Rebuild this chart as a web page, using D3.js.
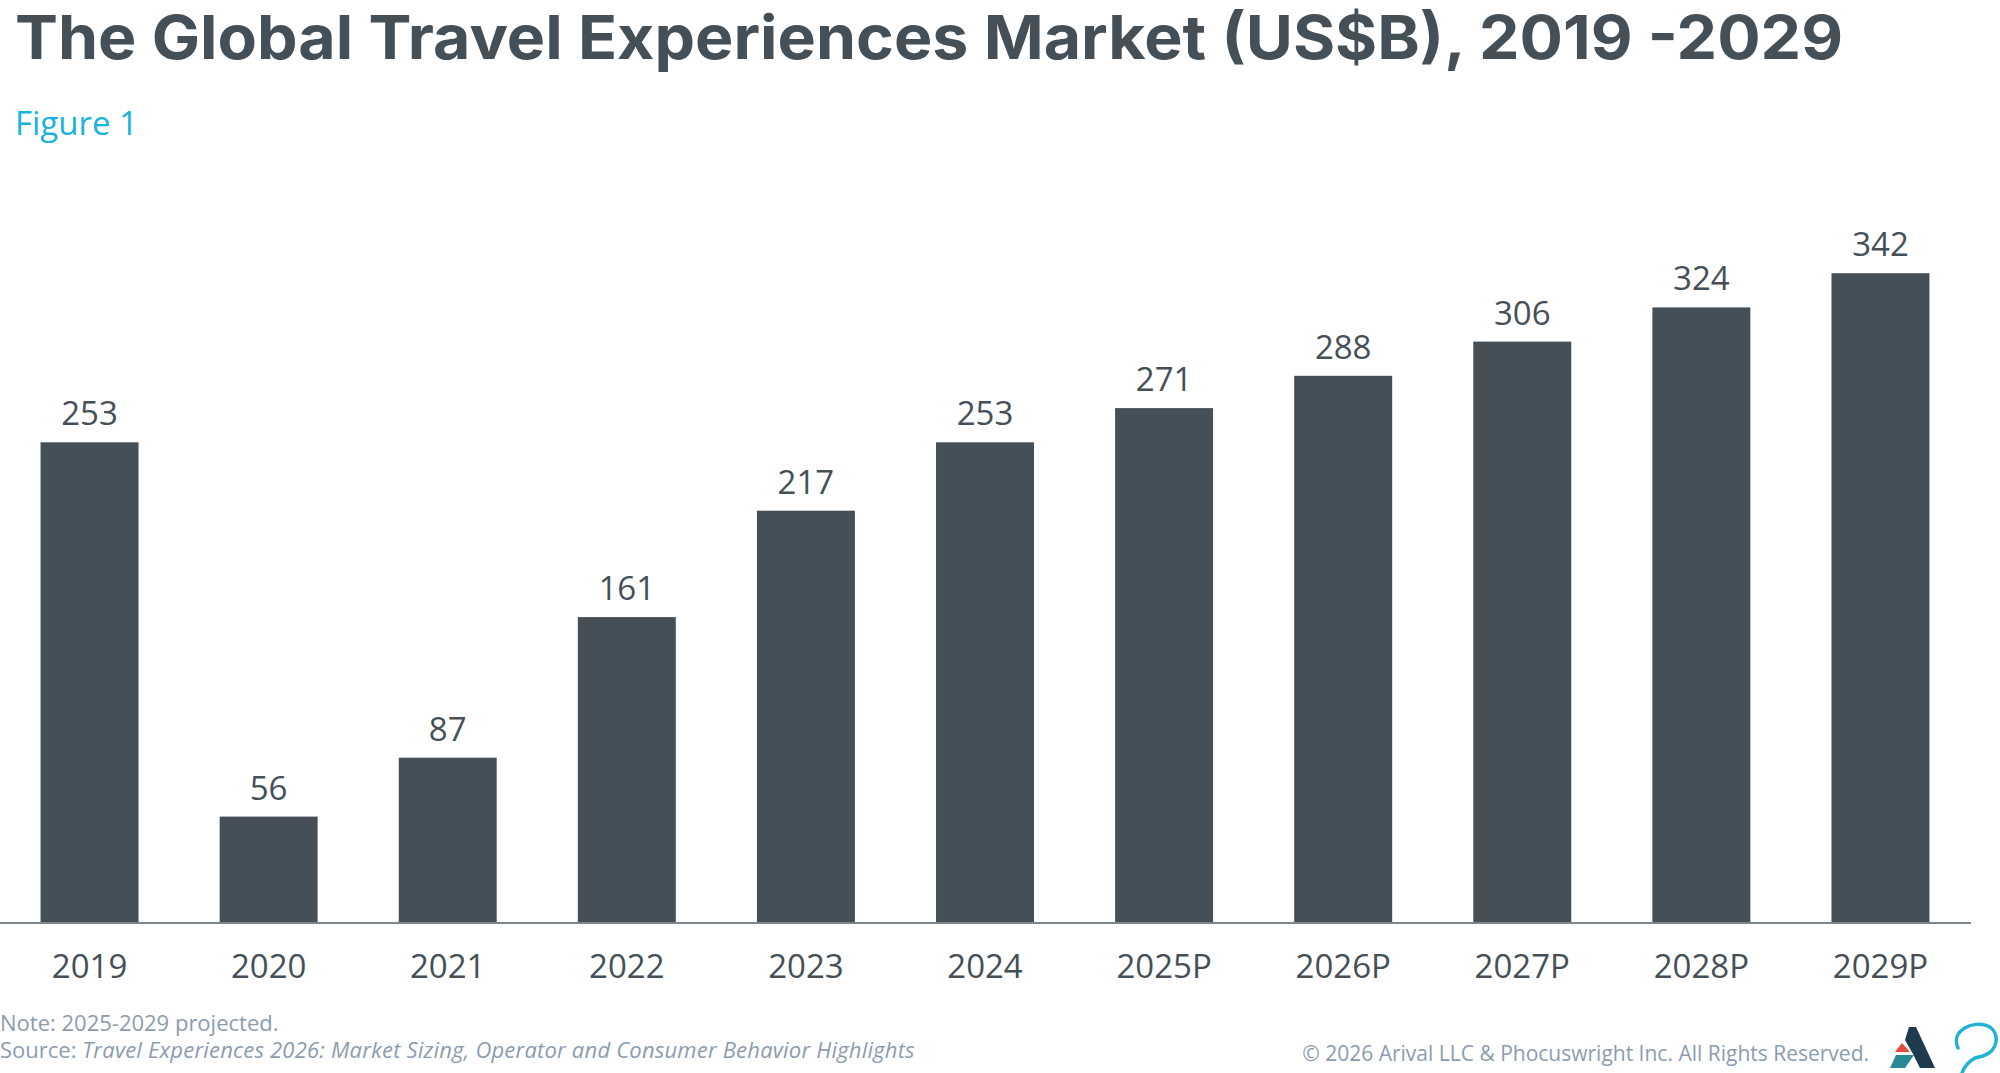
<!DOCTYPE html>
<html>
<head>
<meta charset="utf-8">
<script src="https://cdn.jsdelivr.net/npm/d3@7"></script>
<style>
  body { margin: 0; background: #fff; }
  svg { display: block; }
</style>
</head>
<body>
<div id="chart"></div>
<script>
// chart data
const years = ['2019', '2020', '2021', '2022', '2023', '2024', '2025P', '2026P', '2027P', '2028P', '2029P'];
const marketSize = [253, 56, 87, 161, 217, 253, 271, 288, 306, 324, 342];

const W = 2000, H = 1073;
const barColor = '#454f57';
const textColor = '#454f57';
const noteColor = '#8c9cb0';

const svg = d3.select('#chart')
  .append('svg')
  .attr('width', W)
  .attr('height', H);

// Title + figure tag
svg.append('text')
  .attr('x', 15)
  .attr('y', 59)
  .attr('font-family', 'Inter, sans-serif')
  .attr('font-weight', 700)
  .attr('font-size', 61)
  .attr('fill', textColor)
  .attr('textLength', 1828)
  .attr('lengthAdjust', 'spacingAndGlyphs')
  .text('The Global Travel Experiences Market (US$B), 2019 -2029');

svg.append('text')
  .attr('x', 15)
  .attr('y', 135)
  .attr('font-family', '"Open Sans", sans-serif')
  .attr('font-size', 33)
  .attr('fill', '#1ab3dc')
  .text('Figure 1');

// Scales
const x = d3.scaleBand()
  .domain(years)
  .range([0, 1970])
  .paddingInner(0.453)
  .paddingOuter(0.2265);

const y = d3.scaleLinear()
  .domain([0, 400])
  .range([923, 163]);

const data = years.map((yr, i) => ({ year: yr, value: marketSize[i] }));

// Bars
svg.append('g')
  .selectAll('rect')
  .data(data)
  .join('rect')
  .attr('x', d => x(d.year))
  .attr('y', d => y(d.value))
  .attr('width', x.bandwidth())
  .attr('height', d => y(0) - y(d.value))
  .attr('fill', barColor);

// Value labels
svg.append('g')
  .selectAll('text')
  .data(data)
  .join('text')
  .attr('x', d => x(d.year) + x.bandwidth() / 2)
  .attr('y', d => y(d.value) - 17)
  .attr('text-anchor', 'middle')
  .attr('font-family', '"Open Sans", sans-serif')
  .attr('font-size', 33)
  .attr('fill', textColor)
  .text(d => d.value);

// X axis
const xAxis = svg.append('g')
  .attr('transform', `translate(0,${y(0)})`)
  .call(d3.axisBottom(x).tickSize(0).tickPadding(42));

xAxis.select('.domain')
  .attr('d', 'M0,0H1971')
  .attr('stroke', '#7d868d')
  .attr('stroke-width', 2);

xAxis.selectAll('text')
  .attr('font-family', '"Open Sans", sans-serif')
  .attr('font-size', 33)
  .attr('fill', textColor)
  .attr('dy', 0)
  .attr('y', 55);

// Footer notes
svg.append('text')
  .attr('x', 0)
  .attr('y', 1031)
  .attr('font-family', '"Open Sans", sans-serif')
  .attr('font-size', 22)
  .attr('fill', noteColor)
  .text('Note: 2025-2029 projected.');

const src = svg.append('text')
  .attr('x', 0)
  .attr('y', 1058)
  .attr('font-family', '"Open Sans", sans-serif')
  .attr('font-size', 22)
  .attr('fill', noteColor);
src.append('tspan').text('Source:  ');
src.append('tspan')
  .attr('font-style', 'italic')
  .attr('letter-spacing', 0.2)
  .text('Travel Experiences 2026: Market Sizing, Operator and Consumer Behavior Highlights');

svg.append('text')
  .attr('x', 1869)
  .attr('y', 1061)
  .attr('text-anchor', 'end')
  .attr('font-family', '"Open Sans", sans-serif')
  .attr('font-size', 21)
  .attr('fill', noteColor)
  .text('\u00A9 2026 Arival LLC & Phocuswright Inc. All Rights Reserved.');

// Logos (rough)
const logo = svg.append('g');
logo.append('path')
  .attr('d', 'M1909,1027 L1916,1027 L1935,1068 L1920,1068 L1913,1054 L1905,1040 Z')
  .attr('fill', '#1d3a4f');
logo.append('path')
  .attr('d', 'M1902,1043 L1910,1052 L1895,1052 Z')
  .attr('fill', '#e8483f');
logo.append('path')
  .attr('d', 'M1896,1055 L1914,1055 L1905,1068 L1890,1068 Z')
  .attr('fill', '#2a8a94');
logo.append('path')
  .attr('d', 'M1958,1048 C1950,1030 1974,1020 1988,1026 C2001,1033 1998,1051 1983,1056 L1975,1058 C1968,1062 1964,1067 1962,1073')
  .attr('fill', 'none')
  .attr('stroke', '#22b2d5')
  .attr('stroke-width', 3.5)
  .attr('stroke-linecap', 'round');
</script>
</body>
</html>
